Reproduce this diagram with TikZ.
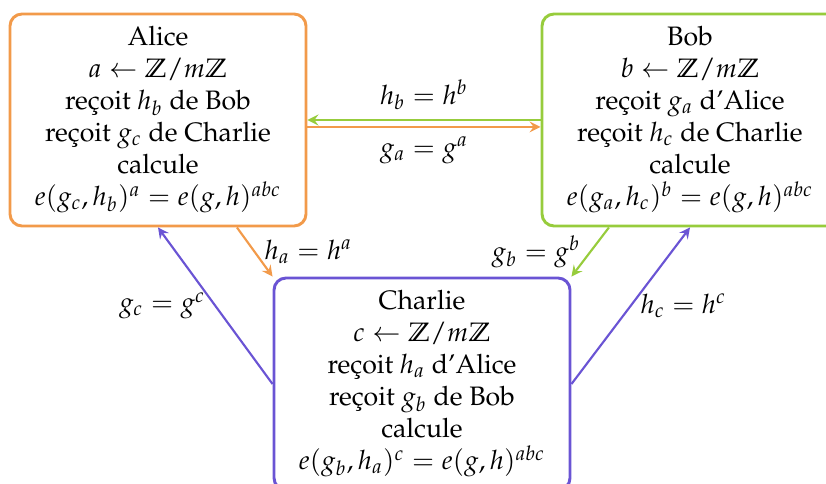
\documentclass[tikz,border=0pt]{standalone}
\usepackage[T1]{fontenc}
\usepackage{mathpazo}
\usepackage{amssymb}
\usepackage{tikz}
\usetikzlibrary{arrows.meta, positioning}
\definecolor{alicecol}{RGB}{242,154,74}
\definecolor{bobcol}{RGB}{151,204,60}
\definecolor{charliecol}{RGB}{106,84,212}

\begin{document}
\begin{tikzpicture}[x=0.375pt,y=-0.375pt,
  party/.style={draw,rectangle,rounded corners=4.5pt,line width=1.1pt,
                minimum width=111pt,minimum height=79.5pt,align=center,inner sep=2pt},
  arr/.style={->,>=stealth,line width=0.8pt}
]
\clip (0,0) rectangle (826,484);
\node[party,draw=alicecol]   (alice)   at (158,120) {Alice\\ $a\leftarrow\mathbb{Z}/m\mathbb{Z}$\\ re\c{c}oit $h_b$ de Bob\\ re\c{c}oit $g_c$ de Charlie\\ calcule\\ $e(g_c,h_b)^a=e(g,h)^{abc}$};
\node[party,draw=bobcol]     (bob)     at (690,120) {Bob\\ $b\leftarrow\mathbb{Z}/m\mathbb{Z}$\\ re\c{c}oit $g_a$ d'Alice\\ re\c{c}oit $h_c$ de Charlie\\ calcule\\ $e(g_a,h_c)^b=e(g,h)^{abc}$};
\node[party,draw=charliecol] (charlie) at (422,384) {Charlie\\ $c\leftarrow\mathbb{Z}/m\mathbb{Z}$\\ re\c{c}oit $h_a$ d'Alice\\ re\c{c}oit $g_b$ de Bob\\ calcule\\ $e(g_b,h_a)^c=e(g,h)^{abc}$};

\draw[arr,bobcol] (bob.west)--node[above,black]{$h_b=h^b$}(alice.east);
\draw[arr,alicecol] ([yshift=-2.6pt]alice.east)--node[below,black]{$g_a=g^a$}([yshift=-2.6pt]bob.west);
\draw[arr,alicecol] ([xshift=29.6pt]alice.south)--node[right,black]{$h_a=h^a$}(charlie.north west);
\draw[arr,bobcol] ([xshift=-30.4pt]bob.south)--node[left,black]{$g_b=g^b$}(charlie.north east);
\draw[arr,charliecol] (charlie.west)--node[left,black]{$g_c=g^c$}(alice.south);
\draw[arr,charliecol] (charlie.east)--node[right,black]{$h_c=h^c$}(bob.south);
\end{tikzpicture}
\end{document}
